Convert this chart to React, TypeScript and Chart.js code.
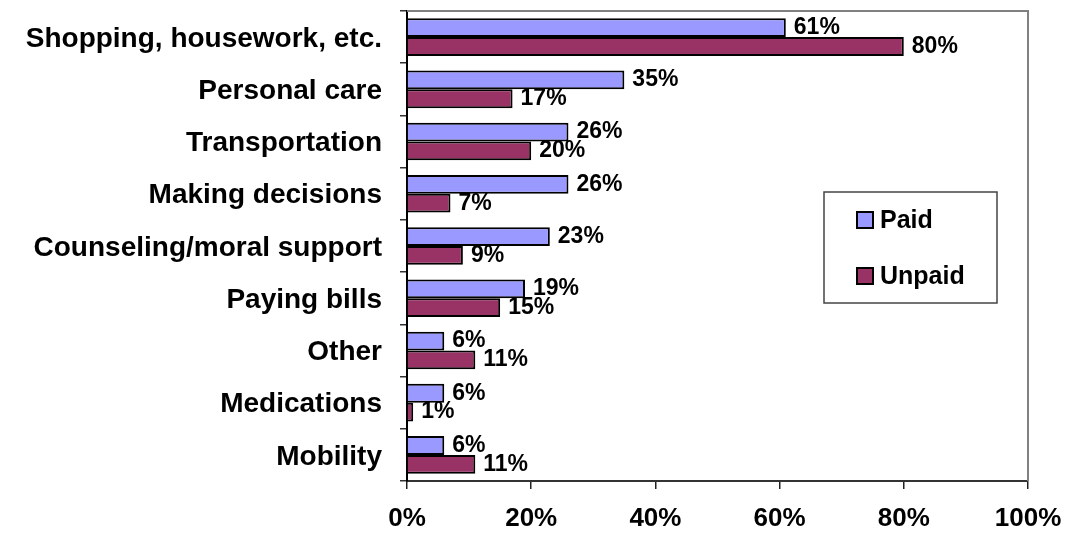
import React, { useEffect, useRef } from "react";
import { Chart, registerables } from "chart.js";

Chart.register(...registerables);

const categories = [
  "Shopping, housework, etc.",
  "Personal care",
  "Transportation",
  "Making decisions",
  "Counseling/moral support",
  "Paying bills",
  "Other",
  "Medications",
  "Mobility",
];
const paidValues = [61, 35, 26, 26, 23, 19, 6, 6, 6];
const unpaidValues = [80, 17, 20, 7, 9, 15, 11, 1, 11];
const xTicks = [0, 20, 40, 60, 80, 100];
const seriesNames = ["Paid", "Unpaid"];
const seriesColors = ["#9999FF", "#993366"];

const FONT = "'Liberation Sans', Arial, Helvetica, sans-serif";

const framePlugin = {
  id: "frame",
  afterDraw(chart: any) {
    const { ctx, chartArea } = chart;
    ctx.save();
    ctx.strokeStyle = "#808080";
    ctx.lineWidth = 2;
    ctx.beginPath();
    ctx.moveTo(chartArea.left, chartArea.top);
    ctx.lineTo(chartArea.right, chartArea.top);
    ctx.lineTo(chartArea.right, chartArea.bottom);
    ctx.stroke();
    ctx.restore();
  },
};

const labelPlugin = {
  id: "valueLabels",
  afterDatasetsDraw(chart: any) {
    const { ctx } = chart;
    ctx.save();
    ctx.font = `bold 23px ${FONT}`;
    ctx.fillStyle = "#000";
    ctx.textAlign = "left";
    ctx.textBaseline = "middle";
    chart.data.datasets.forEach((ds: any, di: number) => {
      const meta = chart.getDatasetMeta(di);
      meta.data.forEach((el: any, i: number) => {
        ctx.fillText(`${ds.data[i]}%`, el.x + 8, el.y);
      });
    });
    ctx.restore();
  },
};

const legendPlugin = {
  id: "boxLegend",
  afterDraw(chart: any) {
    const { ctx } = chart;
    const x0 = 824, y0 = 192, w = 173, h = 111;
    ctx.save();
    ctx.fillStyle = "#fff";
    ctx.fillRect(x0, y0, w, h);
    ctx.strokeStyle = "#444";
    ctx.lineWidth = 1.5;
    ctx.strokeRect(x0, y0, w, h);
    ctx.font = `bold 25px ${FONT}`;
    ctx.textBaseline = "middle";
    ctx.textAlign = "left";
    chart.data.datasets.forEach((ds: any, di: number) => {
      const cy = y0 + 28 + di * 56;
      ctx.fillStyle = ds.backgroundColor;
      ctx.fillRect(857, cy - 8, 16, 16);
      ctx.strokeStyle = "#000";
      ctx.lineWidth = 2;
      ctx.strokeRect(857, cy - 8, 16, 16);
      ctx.fillStyle = "#000";
      ctx.fillText(ds.label, 880, cy + 1);
    });
    ctx.restore();
  },
};

export default function App() {
  const ref = useRef<HTMLCanvasElement>(null);
  useEffect(() => {
    document.body.style.margin = "0";
    const canvas = ref.current!;
    const chart = new Chart(canvas, {
      type: "bar",
      data: {
        labels: categories,
        datasets: [paidValues, unpaidValues].map((vals, i) => ({
          label: seriesNames[i],
          data: vals,
          backgroundColor: seriesColors[i],
          borderColor: "#000",
          borderWidth: 2,
          categoryPercentage: 0.72,
          barPercentage: 1,
        })),
      },
      options: {
        indexAxis: "y",
        animation: false,
        responsive: false,
        maintainAspectRatio: false,
        layout: { padding: { top: 11, right: 40, left: 0, bottom: 0 } },
        plugins: { legend: { display: false }, tooltip: { enabled: false } },
        scales: {
          x: {
            min: 0,
            max: 100,
            afterBuildTicks(scale: any) {
              scale.ticks = xTicks.map((v) => ({ value: v }));
            },
            afterFit(scale: any) {
              scale.height = 54;
              scale.paddingLeft = 0;
              scale.paddingRight = 0;
            },
            grid: {
              drawOnChartArea: false,
              drawTicks: true,
              tickLength: 8,
              color: "#222",
              lineWidth: 1.5,
            },
            border: { display: true, color: "#333", width: 2 },
            ticks: {
              color: "#000",
              padding: 14,
              maxRotation: 0,
              font: { family: FONT, size: 26, weight: "bold" },
              callback: (v: any) => `${v}%`,
            },
          },
          y: {
            afterFit(scale: any) {
              scale.width = 407;
              scale.paddingTop = 0;
              scale.paddingBottom = 0;
            },
            grid: {
              offset: true,
              drawOnChartArea: false,
              drawTicks: true,
              tickLength: 7,
              color: "#333",
              lineWidth: 1.5,
            },
            border: { display: true, color: "#000", width: 2 },
            ticks: {
              color: "#000",
              padding: 18,
              labelOffset: 2,
              autoSkip: false,
              font: { family: FONT, size: 28, weight: "bold" },
            },
          },
        },
      },
      plugins: [framePlugin, labelPlugin, legendPlugin],
    } as any);
    return () => chart.destroy();
  }, []);
  return <canvas ref={ref} width={1068} height={535} style={{ display: "block" }} />;
}
